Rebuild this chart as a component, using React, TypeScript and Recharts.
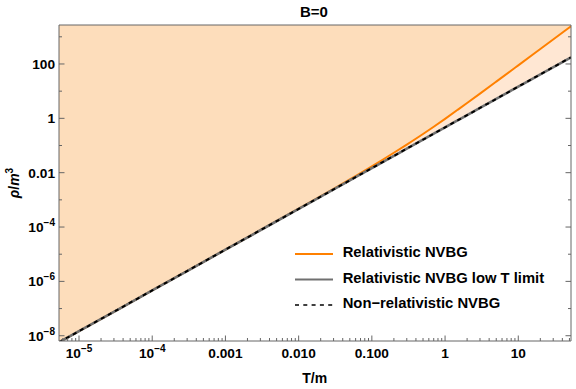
import React from 'react';
import { ComposedChart, Line, Area, XAxis, YAxis, Legend } from 'recharts';

// ---- data ----
const temperatures = [5.33e-6, 1e-5, 1e-4, 1e-3, 1e-2, 0.03, 0.05, 0.1, 0.2, 0.3, 0.5, 0.7, 1, 1.5, 2, 3, 5, 10, 20, 52.5];
const rhoRelativistic = [5.71e-9, 1.47e-8, 4.64e-7, 1.47e-5, 4.72e-4, 2.533e-3, 5.63e-3, 1.708e-2, 0.0541, 0.108, 0.265, 0.49, 0.96, 2.1, 3.68, 8.15, 22.4, 89, 355, 2440];
const rhoLowT = [5.71e-9, 1.47e-8, 4.64e-7, 1.47e-5, 4.64e-4, 2.41e-3, 5.19e-3, 1.47e-2, 0.0415, 0.0764, 0.164, 0.272, 0.464, 0.853, 1.31, 2.41, 5.19, 14.7, 41.5, 176.6];
const rhoNonRelativistic = [5.71e-9, 1.47e-8, 4.64e-7, 1.47e-5, 4.64e-4, 2.41e-3, 5.19e-3, 1.47e-2, 0.0415, 0.0764, 0.164, 0.272, 0.464, 0.853, 1.31, 2.41, 5.19, 14.7, 41.5, 176.6];

const seriesNames = ['Relativistic NVBG', 'Relativistic NVBG low T limit', 'Non\u2212relativistic NVBG'];

const xDomain = [5.33e-6, 52.5];
const yDomain = [6.4e-9, 2720];

const xMajorTicks = [1e-5, 1e-4, 1e-3, 1e-2, 1e-1, 1, 10];
const xMajorLabels = ['10^-5', '10^-4', '0.001', '0.010', '0.100', '1', '10'];
const yMajorTicks = [1e-8, 1e-6, 1e-4, 1e-2, 1, 100];
const yMajorLabels = ['10^-8', '10^-6', '10^-4', '0.01', '1', '100'];
const yMinorTicks = [1e-7, 1e-5, 1e-3, 0.1, 10, 1000];

const title = 'B=0';
const xLabel = 'T/m';

// ---- styles ----
const fontFamily = '"Liberation Sans", Arial, Helvetica, sans-serif';
const frameColor = '#666666';
const orange = '#FF8000';
const grayLine = '#707070';
const fillUpper = '#FDDDBB';
const fillBand = '#FFE7D3';

const xMinorTicks: number[] = [];
for (let e = -6; e <= 1; e++) {
  for (let k = 2; k <= 9; k++) {
    const v = k * Math.pow(10, e);
    if (v >= xDomain[0] && v <= xDomain[1]) xMinorTicks.push(v);
  }
}
const xTicks = [...xMajorTicks, ...xMinorTicks].sort((a, b) => a - b);
const yTicks = [...yMajorTicks, ...yMinorTicks].sort((a, b) => a - b);

const data = temperatures.map((t, i) => ({
  t,
  rel: rhoRelativistic[i],
  low: rhoLowT[i],
  nr: rhoNonRelativistic[i],
}));

const findIdx = (arr: number[], v: number) => arr.findIndex((t) => Math.abs(t - v) / t < 1e-6);

const renderLabel = (label: string) => {
  const m = label.match(/^10\^(-?\d+)$/);
  if (m) {
    const exp = m[1].startsWith('-') ? '\u2212' + m[1].slice(1) : m[1];
    return [
      <tspan key="b">10</tspan>,
      <tspan key="e" dy={-6} fontSize={10}>{exp}</tspan>,
    ];
  }
  return label;
};

const makeXTick = (showLabels: boolean, inward: number) => (props: any) => {
  const { x, y, payload } = props;
  const idx = findIdx(xMajorTicks, payload.value);
  const major = idx >= 0;
  const len = major ? 5.5 : 3;
  return (
    <g>
      <line x1={x} x2={x} y1={y} y2={y + inward * len} stroke={frameColor} strokeWidth={1} />
      {showLabels && major && (
        <text x={x} y={y + 16.5} textAnchor="middle" fontFamily={fontFamily} fontWeight="bold" fontSize={13.7} fill="#000">
          {renderLabel(xMajorLabels[idx])}
        </text>
      )}
    </g>
  );
};

const makeYTick = (showLabels: boolean, inward: number) => (props: any) => {
  const { x, y, payload } = props;
  const idx = findIdx(yMajorTicks, payload.value);
  const major = idx >= 0;
  const len = major ? 5.5 : 3;
  return (
    <g>
      <line x1={x} x2={x + inward * len} y1={y} y2={y} stroke={frameColor} strokeWidth={1} />
      {showLabels && major && (
        <text x={x - 4} y={y + 4.9} textAnchor="end" fontFamily={fontFamily} fontWeight="bold" fontSize={13.7} fill="#000">
          {renderLabel(yMajorLabels[idx])}
        </text>
      )}
    </g>
  );
};

const renderLegend = (props: any) => {
  const payload = (props.payload || [])
    .filter((p: any) => seriesNames.includes(p.value))
    .sort((a: any, b: any) => seriesNames.indexOf(a.value) - seriesNames.indexOf(b.value));
  return (
    <svg width={280} height={80} style={{ display: 'block' }}>
      {payload.map((entry: any, i: number) => {
        const dash = entry.payload && entry.payload.strokeDasharray;
        return (
          <g key={entry.value}>
            <line
              x1={5}
              x2={43}
              y1={14 + 25.5 * i}
              y2={14 + 25.5 * i}
              stroke={entry.color}
              strokeWidth={dash ? 1.6 : 2}
              strokeDasharray={dash ? '4 4.3' : undefined}
            />
            <text x={52.7} y={17.3 + 25.5 * i} fontFamily={fontFamily} fontWeight="bold" fontSize={14.8} fill="#000">
              {entry.value}
            </text>
          </g>
        );
      })}
    </svg>
  );
};

export default function App() {
  return (
    <div style={{ position: 'absolute', left: 0, top: 0, width: 576, height: 389, background: '#fff' }}>
      <ComposedChart
        width={576}
        height={389}
        data={data}
        margin={{ top: 15, right: 1, bottom: 18, left: 9 }}
      >
        <XAxis
          xAxisId="b"
          dataKey="t"
          type="number"
          scale="log"
          domain={xDomain}
          allowDataOverflow
          ticks={xTicks}
          interval={0}
          height={30}
          tickSize={0}
          tickMargin={0}
          tickLine={false}
          axisLine={{ stroke: frameColor }}
          tick={makeXTick(true, -1)}
        />
        <XAxis
          xAxisId="t"
          orientation="top"
          type="number"
          scale="log"
          domain={xDomain}
          allowDataOverflow
          ticks={xTicks}
          interval={0}
          height={10}
          tickSize={0}
          tickMargin={0}
          tickLine={false}
          axisLine={{ stroke: frameColor }}
          tick={makeXTick(false, 1)}
        />
        <YAxis
          yAxisId="l"
          type="number"
          scale="log"
          domain={yDomain}
          allowDataOverflow
          ticks={yTicks}
          interval={0}
          width={50}
          tickSize={0}
          tickMargin={0}
          tickLine={false}
          axisLine={{ stroke: frameColor }}
          tick={makeYTick(true, 1)}
        />
        <YAxis
          yAxisId="r"
          orientation="right"
          type="number"
          scale="log"
          domain={yDomain}
          allowDataOverflow
          ticks={yTicks}
          interval={0}
          width={4}
          tickSize={0}
          tickMargin={0}
          tickLine={false}
          axisLine={{ stroke: frameColor }}
          tick={makeYTick(false, -1)}
        />
        <Area
          xAxisId="b"
          yAxisId="l"
          dataKey="low"
          type="monotone"
          baseValue="dataMax"
          stroke="none"
          fill={fillBand}
          fillOpacity={1}
          legendType="none"
          isAnimationActive={false}
        />
        <Area
          xAxisId="b"
          yAxisId="l"
          dataKey="rel"
          type="monotone"
          baseValue="dataMax"
          stroke="none"
          fill={fillUpper}
          fillOpacity={1}
          legendType="none"
          isAnimationActive={false}
        />
        <Line
          xAxisId="b"
          yAxisId="l"
          dataKey="rel"
          name={seriesNames[0]}
          type="monotone"
          stroke={orange}
          strokeWidth={2}
          dot={false}
          activeDot={false}
          isAnimationActive={false}
        />
        <Line
          xAxisId="b"
          yAxisId="l"
          dataKey="low"
          name={seriesNames[1]}
          type="monotone"
          stroke={grayLine}
          strokeWidth={2.6}
          dot={false}
          activeDot={false}
          isAnimationActive={false}
        />
        <Line
          xAxisId="b"
          yAxisId="l"
          dataKey="nr"
          name={seriesNames[2]}
          type="monotone"
          stroke="#000"
          strokeWidth={2}
          strokeDasharray="4 4"
          dot={false}
          activeDot={false}
          isAnimationActive={false}
        />
        <Legend
          layout="vertical"
          align="center"
          verticalAlign="middle"
          content={renderLegend}
          wrapperStyle={{ left: 290, top: 240, width: 280 }}
        />
      </ComposedChart>
      <svg
        width={576}
        height={389}
        style={{ position: 'absolute', left: 0, top: 0, pointerEvents: 'none' }}
      >
        <text x={314} y={16.5} textAnchor="middle" fontFamily={fontFamily} fontWeight="bold" fontSize={15}>
          {title}
        </text>
        <text x={314.7} y={383} textAnchor="middle" fontFamily={fontFamily} fontWeight="bold" fontSize={14}>
          {xLabel}
        </text>
        <text
          transform="translate(19,183) rotate(-90)"
          textAnchor="middle"
          fontFamily={fontFamily}
          fontWeight="bold"
          fontSize={14}
        >
          <tspan fontStyle="italic">ρ</tspan>
          <tspan>/</tspan>
          <tspan fontStyle="italic">m</tspan>
          <tspan dy={-6} fontSize={10}>3</tspan>
        </text>
      </svg>
    </div>
  );
}
